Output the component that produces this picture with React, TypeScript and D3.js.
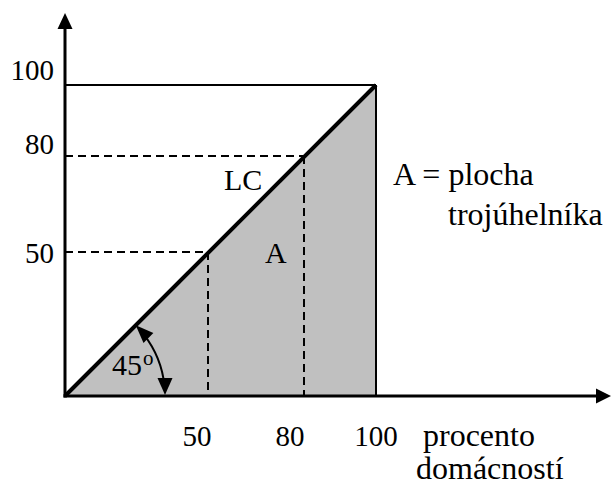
import { useMemo } from "react";
import * as d3 from "d3";

// tick values as printed, and the data of the Lorenz diagram
const ticks = [50, 80, 100];
const equalityLine = [
  { x: 0, y: 0 },
  { x: 100, y: 100 },
];
const triangle = [
  { x: 0, y: 0 },
  { x: 100, y: 100 },
  { x: 100, y: 0 },
];
const guides = [50, 80];
const xTitle = ["procento", "domácností"];
const areaNote = ["A = plocha", "trojúhelníka"];

const SERIF = '"Liberation Serif", "Times New Roman", serif';
const num = { fontFamily: SERIF, fontSize: 29 };
const word = { fontFamily: SERIF, fontSize: 32 };

export default function App() {
  const width = 614;
  const height = 488;

  // the drawing is not quite proportional, so the scales are piecewise
  const x = useMemo(
    () => d3.scaleLinear().domain([0, 50, 80, 100]).range([65, 208, 304, 376]),
    [],
  );
  const y = useMemo(
    () => d3.scaleLinear().domain([0, 50, 80, 100]).range([396, 252, 156, 85]),
    [],
  );

  const line = d3
    .line<{ x: number; y: number }>()
    .x((d) => x(d.x))
    .y((d) => y(d.y));

  const x0 = x(0);
  const y0 = y(0);

  // 45° angle marker
  const r = 100;
  const arcPath = d3.path();
  arcPath.arc(x0, y0, r, -Math.PI / 4 + 0.12, -0.1, false);
  const tip = [x0 + r * Math.cos(-Math.PI / 4), y0 + r * Math.sin(-Math.PI / 4)];
  // arrowhead pointing up-left along the arc's tangent
  const ah = 18;
  const hw = 7;
  const d = [Math.SQRT1_2, Math.SQRT1_2];
  const base = [tip[0] + d[0] * ah, tip[1] + d[1] * ah];
  const topHead = `M${tip[0]},${tip[1]} L${base[0] - d[1] * hw},${base[1] + d[0] * hw} L${base[0] + d[1] * hw},${base[1] - d[0] * hw} Z`;
  const bx = x0 + r;
  const botHead = `M${bx},${y0 - 1} L${bx - 7.5},${y0 - 18} L${bx + 7.5},${y0 - 18} Z`;

  const yLabelDy = [11, -2, -5];
  const xLabelDx = [-11, -14, 0];

  return (
    <svg
      width={width}
      height={height}
      style={{ position: "fixed", left: 0, top: 0, background: "#fff" }}
    >
      {/* shaded triangle */}
      <path d={line(triangle) + "Z"} fill="#c0c0c0" />

      {/* frame: top and right lines */}
      <line x1={x0} x2={x(100)} y1={y(100)} y2={y(100)} stroke="#000" strokeWidth={2} />
      <line x1={x(100)} x2={x(100)} y1={y(100)} y2={y0} stroke="#000" strokeWidth={2} />

      {/* dashed guides */}
      {guides.map((g) => (
        <g key={g} stroke="#000" strokeWidth={2} strokeDasharray="8,5">
          <line x1={x0} x2={x(g)} y1={y(g)} y2={y(g)} />
          <line x1={x(g)} x2={x(g)} y1={y(g)} y2={y0} />
        </g>
      ))}

      {/* equality line */}
      <path d={line(equalityLine) ?? ""} fill="none" stroke="#000" strokeWidth={4} />

      {/* axes */}
      <line x1={x0} x2={x0} y1={y0 + 1.5} y2={28} stroke="#000" strokeWidth={3} />
      <path d={`M${x0},13 L${x0 - 7.5},29 L${x0 + 7.5},29 Z`} fill="#000" />
      <line x1={x0 - 1.5} x2={598} y1={y0} y2={y0} stroke="#000" strokeWidth={3} />
      <path d={`M611,${y0} L596,${y0 - 7.5} L596,${y0 + 7.5} Z`} fill="#000" />

      {/* angle marker */}
      <path d={arcPath.toString()} fill="none" stroke="#000" strokeWidth={2} />
      <path d={topHead} fill="#000" />
      <path d={botHead} fill="#000" />
      <text x={112} y={375} style={{ ...num, fontSize: 30 }}>
        45
      </text>
      <text x={143} y={365} style={{ ...num, fontSize: 21 }}>
        o
      </text>

      {/* y tick labels */}
      {ticks.map((t, i) => (
        <text key={t} x={54} y={y(t) + yLabelDy[i]} style={num} textAnchor="end">
          {t}
        </text>
      ))}

      {/* x tick labels */}
      {ticks.map((t, i) => (
        <text key={t} x={x(t) + xLabelDx[i]} y={446} style={num} textAnchor="middle">
          {t}
        </text>
      ))}

      {/* x title */}
      <text x={423} y={446} style={word}>
        {xTitle[0]}
      </text>
      <text x={416} y={479} style={word}>
        {xTitle[1]}
      </text>

      {/* annotations */}
      <text x={224} y={190} style={{ ...word, fontSize: 30 }}>
        LC
      </text>
      <text x={265} y={263} style={{ ...word, fontSize: 30 }}>
        A
      </text>
      <text x={393} y={185} style={word}>
        {areaNote[0]}
      </text>
      <text x={448} y={225} style={word}>
        {areaNote[1]}
      </text>
    </svg>
  );
}
